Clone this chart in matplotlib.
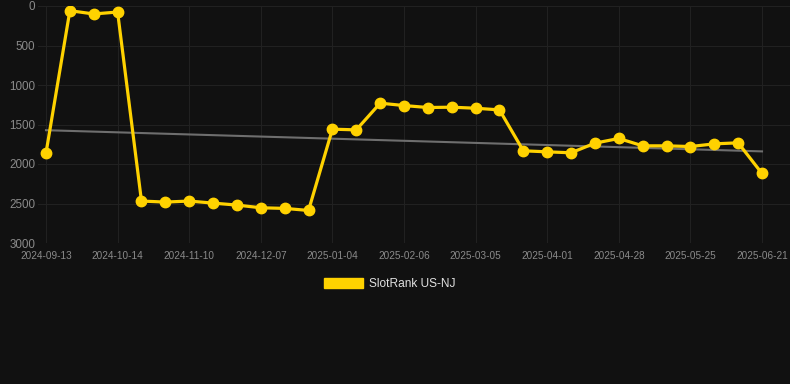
import numpy as np
import matplotlib
matplotlib.use("Agg")
import matplotlib.pyplot as plt
from matplotlib.patches import Patch

plt.rcParams['font.family'] = ['Liberation Sans', 'DejaVu Sans']

# Data
ranks = [1862, 59, 101, 76, 2469, 2482, 2469, 2495, 2520, 2554, 2562, 2588,
         1559, 1568, 1230, 1260, 1285, 1281, 1294, 1315, 1833, 1846, 1858,
         1736, 1677, 1770, 1770, 1779, 1745, 1732, 2120]
tick_labels = ["2024-09-13", "2024-10-14", "2024-11-10", "2024-12-07",
               "2025-01-04", "2025-02-06", "2025-03-05", "2025-04-01",
               "2025-04-28", "2025-05-25", "2025-06-21"]
y_ticks = [0, 500, 1000, 1500, 2000, 2500, 3000]
series_name = "SlotRank US-NJ"

BG = "#111111"
GOLD = "#FFD200"

W, H = 790, 384
fig = plt.figure(figsize=(W / 100, H / 100), dpi=100, facecolor=BG)
ax = fig.add_axes([38 / W, (H - 243) / H, 752 / W, 237 / H])
ax.set_facecolor(BG)

x = np.arange(len(ranks))
y = np.array(ranks, dtype=float)

# trend line (linear regression)
coef = np.polyfit(x, y, 1)
ax.plot([x[0], x[-1]], np.polyval(coef, [x[0], x[-1]]), color="#6e6e6e",
        lw=1.5, zorder=2)

ax.plot(x, y, color=GOLD, lw=2.3, marker="o", markersize=7.5,
        markerfacecolor=GOLD, markeredgecolor=GOLD, zorder=3)

px = 23.87
ax.set_xlim(-8 / px, 30 + 28 / px)
ax.set_ylim(3000, 0)

ax.set_xticks(x[::3])
ax.set_xticklabels(tick_labels)
ax.set_yticks(y_ticks)

ax.grid(True, color="#212121", lw=0.75)
ax.set_axisbelow(True)
for s in ax.spines.values():
    s.set_visible(False)
ax.tick_params(axis="both", length=0)
ax.tick_params(axis="y", labelsize=8.4, colors="#8a8a8a", pad=2)
ax.tick_params(axis="x", labelsize=7.2, colors="#8a8a8a", pad=6)

handle = Patch(facecolor=GOLD, edgecolor=GOLD)
leg = fig.legend([handle], [series_name], loc="center",
                 bbox_to_anchor=(390 / W, 1 - 284 / H), frameon=False,
                 fontsize=8.6, handlelength=3.3, handleheight=0.95,
                 handletextpad=0.5, labelcolor="#e0e0e0")

fig.savefig("out.png", dpi=100, facecolor=BG)
